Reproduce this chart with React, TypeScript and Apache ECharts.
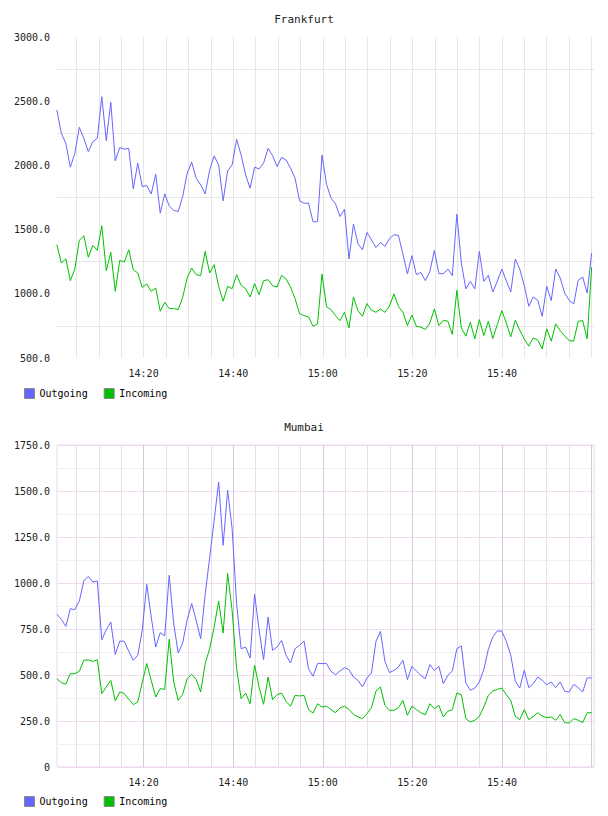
import React, { useEffect, useRef } from "react";
import * as echarts from "echarts";

// seconds after 14:00 of the first sample, and sample spacing (seconds)
const START_SEC = 38;
const STEP_SEC = 60.2;
const AXIS_MIN = 40;
const AXIS_MAX = 7233;

// x-axis labels (seconds after 14:00)
const timeLabelValues = [1200, 2400, 3600, 4800, 6000];
// vertical grid every 5 minutes
const gridLineValues = [300, 600, 900, 1200, 1500, 1800, 2100, 2400, 2700, 3000, 3300, 3600, 3900, 4200, 4500, 4800, 5100, 5400, 5700, 6000, 6300, 6600, 6900, 7200];

const legendNames = ["Outgoing", "Incoming"];

const frankfurtOutgoing = [
  2431, 2250, 2172, 1986, 2094, 2296, 2211, 2107, 2185, 2211,
  2535, 2193, 2491, 2035, 2139, 2126, 2133, 1817, 2017, 1835,
  1843, 1778, 1931, 1628, 1778, 1685, 1649, 1641, 1758, 1939,
  2025, 1900, 1848, 1778, 1965, 2074, 2004, 1724, 1957, 2004,
  2203, 2081, 1926, 1822, 1986, 1973, 2017, 2133, 2076, 1991,
  2063, 2043, 1978, 1900, 1724, 1706, 1706, 1561, 1561, 2081,
  1853, 1745, 1700, 1602, 1659, 1271, 1543, 1390, 1343, 1478,
  1421, 1361, 1400, 1369, 1429, 1460, 1455, 1310, 1154, 1297,
  1149, 1167, 1102, 1175, 1338, 1157, 1157, 1193, 1141, 1620,
  1240, 1038, 1097, 1038, 1330, 1097, 1144, 1014, 1097, 1193,
  1102, 1014, 1271, 1193, 1064, 903, 975, 949, 825, 1058,
  947, 1193, 1123, 1006, 949, 921, 1105, 1131, 1006, 1317,
];

const frankfurtIncoming = [
  1382, 1240, 1273, 1102, 1193, 1416, 1452, 1284, 1377, 1338,
  1530, 1180, 1323, 1019, 1260, 1247, 1343, 1188, 1162, 1050,
  1076, 1019, 1045, 864, 934, 885, 885, 877, 973, 1123,
  1201, 1149, 1141, 1330, 1162, 1227, 1058, 942, 1058, 1040,
  1149, 1066, 1040, 975, 1079, 993, 1102, 1110, 1063, 1053,
  1144, 1115, 1053, 962, 846, 830, 820, 747, 766, 1154,
  898, 877, 830, 791, 856, 734, 975, 869, 825, 924,
  872, 856, 882, 856, 903, 999, 903, 856, 753, 835,
  747, 740, 722, 773, 882, 753, 794, 786, 683, 1027,
  734, 670, 778, 649, 799, 675, 786, 652, 760, 869,
  773, 665, 794, 716, 649, 592, 657, 639, 571, 727,
  631, 766, 714, 670, 636, 631, 786, 791, 649, 1208,
];

const mumbaiOutgoing = [
  830, 803, 764, 860, 855, 902, 1011, 1036, 1005, 1011,
  692, 746, 788, 611, 685, 683, 629, 580, 607, 743,
  993, 815, 652, 730, 712, 1042, 779, 620, 674, 801,
  888, 797, 697, 938, 1138, 1341, 1549, 1205, 1504, 1295,
  888, 643, 652, 592, 938, 746, 583, 815, 634, 652,
  688, 607, 565, 643, 661, 685, 534, 493, 562, 562,
  562, 520, 502, 522, 540, 529, 489, 471, 435, 484,
  511, 683, 737, 574, 513, 525, 543, 580, 475, 547,
  522, 498, 480, 556, 525, 547, 453, 498, 522, 643,
  658, 457, 417, 429, 462, 529, 639, 707, 739, 739,
  683, 607, 467, 429, 525, 431, 453, 489, 471, 447,
  462, 431, 462, 411, 408, 449, 431, 408, 484, 484,
];

const mumbaiIncoming = [
  480, 458, 451, 507, 507, 520, 580, 582, 574, 583,
  399, 435, 471, 359, 408, 399, 368, 339, 353, 458,
  562, 471, 380, 426, 422, 694, 462, 362, 395, 480,
  504, 475, 408, 562, 643, 761, 902, 728, 1051, 851,
  534, 371, 402, 344, 553, 435, 341, 489, 366, 393,
  402, 357, 330, 389, 386, 389, 312, 293, 344, 326,
  330, 312, 295, 321, 330, 313, 286, 272, 263, 290,
  322, 413, 435, 335, 308, 308, 322, 362, 281, 330,
  312, 295, 284, 344, 317, 335, 272, 303, 312, 402,
  393, 263, 245, 254, 275, 326, 389, 413, 422, 429,
  393, 362, 275, 257, 312, 257, 275, 295, 277, 268,
  272, 254, 284, 241, 239, 263, 254, 241, 295, 295,
];

const BLUE = "#6666ff";
const GREEN = "#00c000";
const MONO = "'DejaVu Sans Mono', 'Liberation Mono', monospace";

function toPairs(values: number[]) {
  return values.map((v, i) => [START_SEC + i * STEP_SEC, v]);
}

function fmtTime(sec: number) {
  const m = Math.round(sec / 60);
  const h = 14 + Math.floor(m / 60);
  const mm = m % 60;
  return `${h}:${mm < 10 ? "0" + mm : mm}`;
}

export default function App() {
  const ref = useRef<HTMLDivElement>(null);

  useEffect(() => {
    if (!ref.current) return;
    const chart = echarts.init(ref.current, null, { renderer: "svg" });

    const labelText = { fontFamily: MONO, fontSize: 10, color: "#222" };

    const makeX = (gridIndex: number, splitColor: any) => ({
      type: "value",
      gridIndex,
      min: AXIS_MIN,
      max: AXIS_MAX,
      axisLine: { show: false },
      axisTick: { show: false, customValues: gridLineValues },
      axisLabel: {
        ...labelText,
        customValues: timeLabelValues,
        formatter: (v: number) => fmtTime(v),
        margin: 10,
      },
      splitLine: { show: true, lineStyle: { color: splitColor, width: 1 } },
    });

    const makeLegend = (top: number) => ({
      data: legendNames,
      left: 24,
      top,
      padding: 0,
      itemWidth: 10,
      itemHeight: 10,
      itemGap: 16,
      icon: "rect",
      itemStyle: { borderColor: "#888", borderWidth: 1 },
      textStyle: { ...labelText, color: "#000" },
    });

    const titleStyle = { fontFamily: MONO, fontSize: 11, fontWeight: "normal", color: "#222" };

    const option: any = {
      animation: false,
      backgroundColor: "#ffffff",
      title: [
        { text: "Frankfurt", left: "center", top: 14, padding: 0, textStyle: titleStyle },
        { text: "Mumbai", left: "center", top: 422, padding: 0, textStyle: titleStyle },
      ],
      legend: [makeLegend(388), makeLegend(796)],
      grid: [
        { left: 57, top: 37, width: 537, height: 321, show: false },
        {
          left: 57,
          top: 445,
          width: 537,
          height: 322,
          show: true,
          borderColor: "#ecd8ec",
          borderWidth: 1,
        },
      ],
      xAxis: [
        makeX(0, "#e6e6e6"),
        makeX(1, ["#e8e0e8", "#e8e0e8", "#e8e0e8", "#dcc6dc"]),
      ],
      yAxis: [
        {
          type: "value",
          gridIndex: 0,
          min: 500,
          max: 3000,
          interval: 250,
          axisLine: { show: false },
          axisTick: { show: false },
          axisLabel: {
            ...labelText,
            margin: 7,
            formatter: (v: number) => (v % 500 === 0 ? v.toFixed(1) : ""),
          },
          splitLine: { show: true, lineStyle: { color: ["rgba(0,0,0,0)", "#e6e6e6"], width: 1 } },
        },
        {
          type: "value",
          gridIndex: 1,
          min: 0,
          max: 1750,
          interval: 125,
          axisLine: { show: false },
          axisTick: { show: false },
          axisLabel: {
            ...labelText,
            margin: 7,
            formatter: (v: number) => (v % 250 === 0 ? (v === 0 ? "0" : v.toFixed(1)) : ""),
          },
          splitLine: { show: true, lineStyle: { color: ["#eedcee", "#f3eef3"], width: 1 } },
        },
      ],
      series: [
        {
          name: "Outgoing",
          type: "line",
          xAxisIndex: 0,
          yAxisIndex: 0,
          data: toPairs(frankfurtOutgoing),
          showSymbol: false,
          color: BLUE,
          lineStyle: { color: BLUE, width: 1 },
        },
        {
          name: "Incoming",
          type: "line",
          xAxisIndex: 0,
          yAxisIndex: 0,
          data: toPairs(frankfurtIncoming),
          showSymbol: false,
          color: GREEN,
          lineStyle: { color: GREEN, width: 1 },
        },
        {
          name: "Outgoing",
          type: "line",
          xAxisIndex: 1,
          yAxisIndex: 1,
          data: toPairs(mumbaiOutgoing),
          showSymbol: false,
          color: BLUE,
          lineStyle: { color: BLUE, width: 1 },
        },
        {
          name: "Incoming",
          type: "line",
          xAxisIndex: 1,
          yAxisIndex: 1,
          data: toPairs(mumbaiIncoming),
          showSymbol: false,
          color: GREEN,
          lineStyle: { color: GREEN, width: 1 },
        },
      ],
    };

    chart.setOption(option);
    return () => chart.dispose();
  }, []);

  return (
    <div
      ref={ref}
      style={{ position: "fixed", left: 0, top: 0, width: 608, height: 816, background: "#fff" }}
    />
  );
}
